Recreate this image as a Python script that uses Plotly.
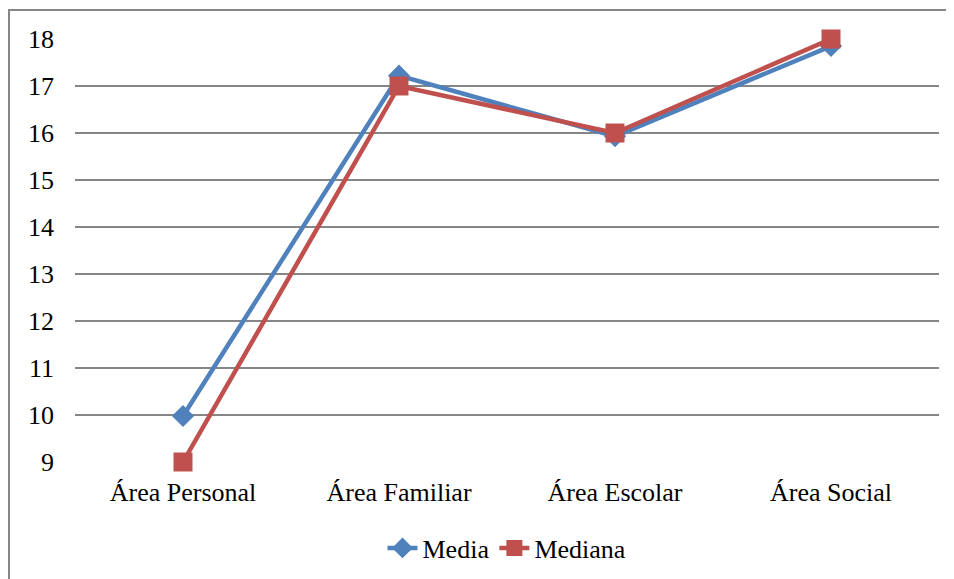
import plotly.graph_objects as go

categories = ["Área Personal", "Área Familiar", "Área Escolar", "Área Social"]
media = [9.98, 17.22, 15.93, 17.85]
mediana = [9, 17, 16, 18]
y_ticks = [9, 10, 11, 12, 13, 14, 15, 16, 17, 18]

fig = go.Figure()
fig.add_trace(go.Scatter(
    x=categories, y=media, name="Media", mode="lines+markers",
    line=dict(color="#4F81BD", width=4.5),
    marker=dict(symbol="diamond", size=17, color="#4F81BD"),
    cliponaxis=False,
))
fig.add_trace(go.Scatter(
    x=categories, y=mediana, name="Mediana", mode="lines+markers",
    line=dict(color="#C0504D", width=4.5),
    marker=dict(symbol="square", size=19, color="#C0504D"),
    cliponaxis=False,
))

OFF = 8  # default page body margin
L, R, T, B = 75 - OFF, 939 - OFF, 39 - OFF, 462 - OFF
W, H = 954 - OFF, 579 - OFF
pw, ph = R - L, B - T

def px(x):
    return (x - OFF - L) / pw

def py(y):
    return (B - (y - OFF)) / ph

fig.add_shape(type="rect", xref="paper", yref="paper",
              x0=px(9), x1=px(970), y0=py(600), y1=py(10),
              line=dict(color="#868686", width=2), layer="below")

FONT = "Liberation Serif"
FS = 26
fig.update_layout(
    width=W, height=H,
    margin=dict(l=L, r=W - R, t=T, b=H - B, autoexpand=False),
    paper_bgcolor="white", plot_bgcolor="white",
    font=dict(family=FONT, size=FS, color="black"),
    showlegend=True,
    legend=dict(orientation="h", x=0.5, xanchor="center", y=py(548), yanchor="middle",
                font=dict(family=FONT, size=FS), tracegroupgap=0),
    xaxis=dict(range=[-0.5, 3.5], showgrid=False, zeroline=False, showline=False,
               ticks="", tickfont=dict(family=FONT, size=FS), ticklabelstandoff=12,
               automargin=False),
    yaxis=dict(range=[9, 18], tickvals=y_ticks, showgrid=True, gridcolor="#868686",
               gridwidth=1.6, zeroline=False, showline=False, ticks="",
               tickfont=dict(family=FONT, size=FS), ticklabelstandoff=20,
               automargin=False),
)

fig.write_html("out.html")
